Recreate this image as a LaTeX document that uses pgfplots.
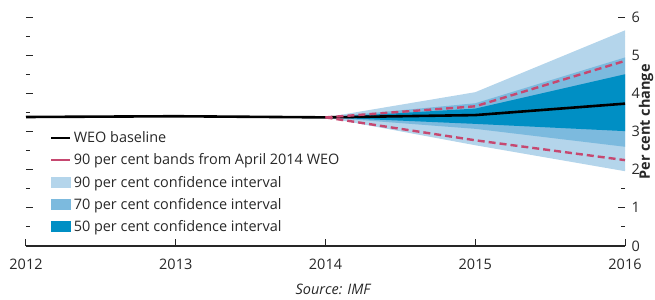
\documentclass[border=0pt]{standalone}
\usepackage{pgfplots}
\pgfplotsset{compat=1.18}
\usepackage{fontspec}
\setmainfont{Open Sans}
\definecolor{ci90}{RGB}{180,213,235}
\definecolor{ci70}{RGB}{124,186,222}
\definecolor{ci50}{RGB}{0,143,196}
\definecolor{band}{RGB}{198,72,112}
\definecolor{txt}{RGB}{40,40,40}
\begin{document}
\begin{tikzpicture}
\useasboundingbox (-26bp,-54bp) rectangle (629bp,246bp);
\begin{axis}[
  at={(0,0)}, anchor=south west,
  scale only axis, width=599bp, height=229bp,
  xmin=2012, xmax=2016, ymin=0, ymax=6,
  axis line style={draw=none},
  xtick={2012,2013,2014,2015,2016},
  ytick={0,1,2,3,4,5,6},
  minor ytick={0.5,1.5,2.5,3.5,4.5,5.5},
  xtick pos=lower, ytick pos=both,
  yticklabel pos=right,
  tick align=inside,
  major tick length=7bp, minor tick length=4bp,
  tick style={black!85, line width=1bp},
  /pgf/number format/assume math mode=true,
  /pgf/number format/set thousands separator={},
  tick label style={font=\fontsize{14.5}{16}\selectfont, text=txt},
  yticklabel style={xshift=3bp},
  xticklabel style={yshift=-10bp},
  legend style={at={(axis cs:2012.16,3.05)}, anchor=north west, draw=none, fill=none,
    font=\fontsize{14.5}{16}\selectfont, text=txt, row sep=5.6bp, inner sep=0pt},
  legend cell align=left,
  clip=false,
]
% legend entries
\addlegendimage{legend image code/.code={\draw[black, line width=2.6bp] (0bp,0bp) -- (19bp,0bp);}}
\addlegendentry{WEO baseline}
\addlegendimage{legend image code/.code={\draw[band, line width=2.6bp] (0bp,0bp) -- (19bp,0bp);}}
\addlegendentry{90 per cent bands from April 2014 WEO}
\addlegendimage{legend image code/.code={\fill[ci90] (0bp,-5bp) rectangle (19bp,5bp);}}
\addlegendentry{90 per cent confidence interval}
\addlegendimage{legend image code/.code={\fill[ci70] (0bp,-5bp) rectangle (19bp,5bp);}}
\addlegendentry{70 per cent confidence interval}
\addlegendimage{legend image code/.code={\fill[ci50] (0bp,-5bp) rectangle (19bp,5bp);}}
\addlegendentry{50 per cent confidence interval}

% fan: 90 per cent
\addplot[fill=ci90, draw=none, forget plot] coordinates {
 (2014,3.37) (2015,4.03) (2016,5.65) (2016,1.96) (2015,2.64) (2014,3.37)} -- cycle;
% 70 per cent
\addplot[fill=ci70, draw=none, forget plot] coordinates {
 (2014,3.37) (2015,3.74) (2016,4.94) (2016,2.60) (2015,3.07) (2014,3.37)} -- cycle;
% 50 per cent
\addplot[fill=ci50, draw=none, forget plot] coordinates {
 (2014,3.37) (2015,3.60) (2016,4.50) (2016,3.01) (2015,3.20) (2014,3.37)} -- cycle;
% baseline
\addplot[black, line width=2.6bp, forget plot] coordinates {
 (2012,3.38) (2013,3.40) (2014,3.37) (2015,3.43) (2016,3.73)};
% April 2014 bands
\addplot[band, line width=2.4bp, dash pattern=on 7bp off 4bp, forget plot] coordinates {
 (2014,3.37) (2015,3.66) (2016,4.85)};
\addplot[band, line width=2.4bp, dash pattern=on 7bp off 4bp, forget plot] coordinates {
 (2014,3.37) (2015,2.77) (2016,2.25)};

\draw[black!85, line width=1.2bp] (axis cs:2012,0) -- (axis cs:2016,0);
\node[rotate=90, font=\fontsize{14.5}{16}\selectfont\bfseries, text=txt] at ([xshift=21bp]axis cs:2016,3.25) {Per cent change};
\node[font=\fontsize{14.5}{16}\selectfont\itshape, text=txt] at ([yshift=-43bp]axis cs:2014.05,0) {Source: IMF};
\end{axis}
\end{tikzpicture}
\end{document}
